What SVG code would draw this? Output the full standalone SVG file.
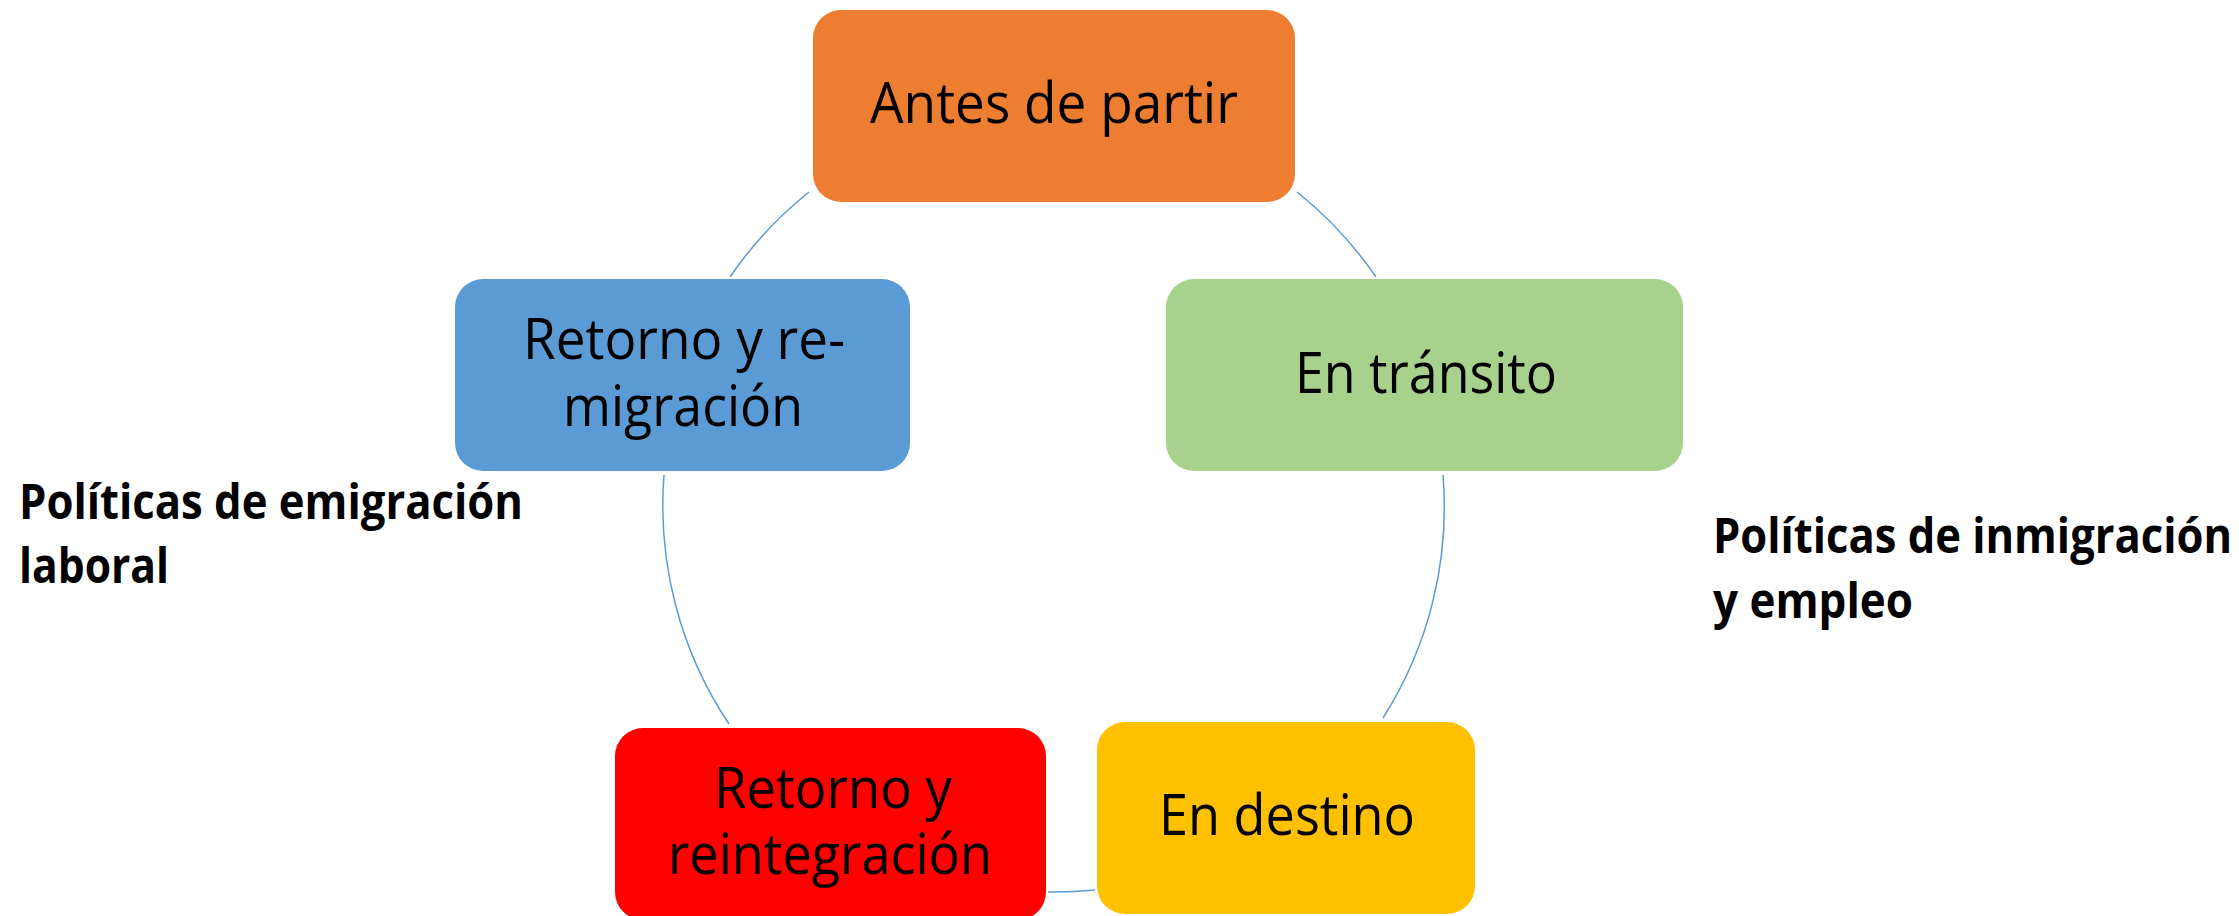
<svg xmlns="http://www.w3.org/2000/svg" width="2239" height="916" viewBox="0 0 2239 916">
<style>
.n{font-family:"Open Sans","Noto Sans","Liberation Sans",sans-serif;font-size:56px;fill:#000}
.b{font-family:"Open Sans","Noto Sans","Liberation Sans",sans-serif;font-size:48px;font-weight:bold;fill:#000}
.c{fill:none;stroke:#5B9BD5;stroke-width:1.5}
</style>
<rect width="2239" height="916" fill="#fff"/>
<g id="connectors">
<path class="c" d="M1297,192 A393,393 0 0 1 1376,277"/>
<path class="c" d="M1443,475 A393,393 0 0 1 1383,718"/>
<path class="c" d="M1095,890 A393,393 0 0 1 1048,892"/>
<path class="c" d="M729,724 A393,393 0 0 1 664,475"/>
<path class="c" d="M730,277 A393,393 0 0 1 809,192"/>
</g>
<g id="antes">
<rect x="813" y="10" width="482" height="192" rx="28" fill="#ED7D31"/>
<text class="n" x="870" y="123" textLength="368" lengthAdjust="spacingAndGlyphs">Antes de partir</text>
</g>
<g id="transito">
<rect x="1166" y="279" width="517" height="192" rx="28" fill="#A9D18E"/>
<text class="n" x="1295" y="393" textLength="262" lengthAdjust="spacingAndGlyphs">En tránsito</text>
</g>
<g id="destino">
<rect x="1097" y="722" width="378" height="192" rx="28" fill="#FFC000"/>
<text class="n" x="1159" y="835" textLength="256" lengthAdjust="spacingAndGlyphs">En destino</text>
</g>
<g id="reintegracion">
<rect x="615" y="728" width="431" height="192" rx="28" fill="#FF0000"/>
<text class="n" x="714" y="808" textLength="238" lengthAdjust="spacingAndGlyphs">Retorno y</text>
<text class="n" x="668" y="874" textLength="324" lengthAdjust="spacingAndGlyphs">reintegración</text>
</g>
<g id="remigracion">
<rect x="455" y="279" width="455" height="192" rx="28" fill="#5B9BD5"/>
<text class="n" x="523" y="359" textLength="322" lengthAdjust="spacingAndGlyphs">Retorno y re-</text>
<text class="n" x="563" y="426" textLength="240" lengthAdjust="spacingAndGlyphs">migración</text>
</g>
<g id="emigracion">
<text class="b" x="19" y="519" textLength="504" lengthAdjust="spacingAndGlyphs">Políticas de emigración</text>
<text class="b" x="19" y="583" textLength="150" lengthAdjust="spacingAndGlyphs">laboral</text>
</g>
<g id="inmigracion">
<text class="b" x="1713" y="553" textLength="519" lengthAdjust="spacingAndGlyphs">Políticas de inmigración</text>
<text class="b" x="1713" y="618" textLength="200" lengthAdjust="spacingAndGlyphs">y empleo</text>
</g>
</svg>
